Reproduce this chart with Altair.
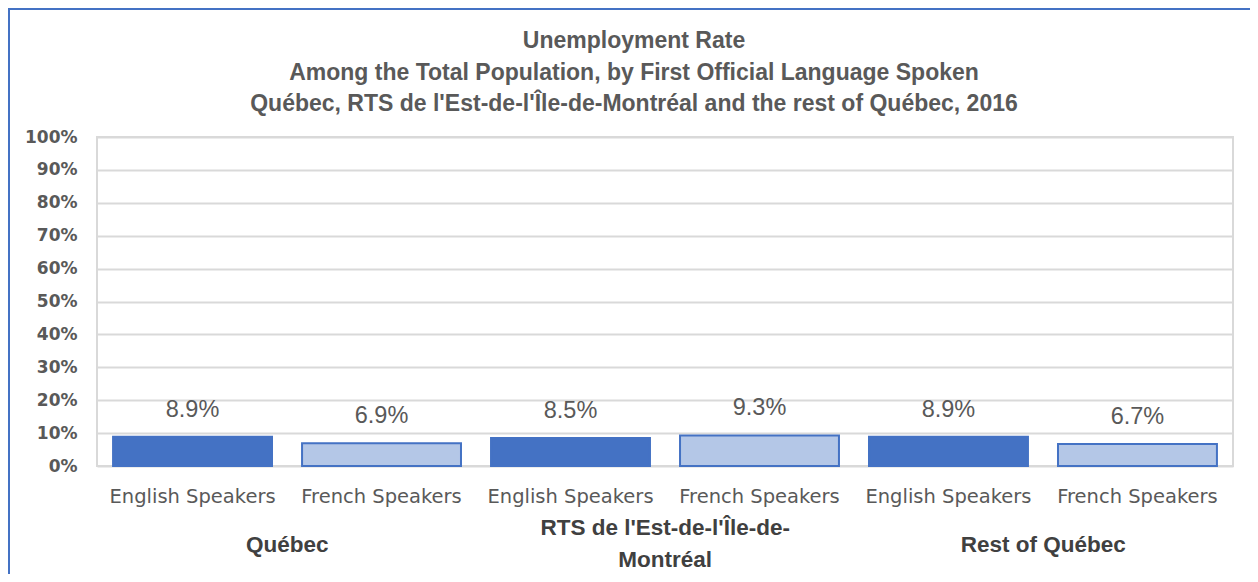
import altair as alt
import pandas as pd

groups = ["Québec", "Québec",
          "RTS de l'Est-de-l'Île-de-Montréal", "RTS de l'Est-de-l'Île-de-Montréal",
          "Rest of Québec", "Rest of Québec"]
speakers = ["English Speakers", "French Speakers"] * 3
rates = [8.9, 6.9, 8.5, 9.3, 8.9, 6.7]
group_names = ["Québec", "RTS de l'Est-de-l'Île-de-\nMontréal", "Rest of Québec"]
y_ticks = [0, 10, 20, 30, 40, 50, 60, 70, 80, 90, 100]
title_text = ("Unemployment Rate\n"
              "Among the Total Population, by First Official Language Spoken\n"
              "Québec, RTS de l'Est-de-l'Île-de-Montréal and the rest of Québec, 2016")

df = pd.DataFrame({"group": groups, "speaker": speakers, "rate": rates})
keys = [f"{i}|{s}" for i, s in enumerate(speakers)]
df["key"] = keys
df["label"] = [f"{r:.1f}%" for r in rates]
gdf = pd.DataFrame({"gname": group_names, "key": keys[0::2]})
gdf["lines"] = [g.count("\n") + 1 for g in group_names]

W, H = 1136, 329
xscale = alt.Scale(domain=keys, paddingInner=0.159, paddingOuter=0.085)

x = alt.X("key:N", sort=keys, scale=xscale,
          axis=alt.Axis(title=None, labelExpr="split(datum.label, '|')[1]",
                        labelAngle=0, domain=False, ticks=False, grid=False,
                        labelFont="DejaVu Sans", labelFontSize=19.5,
                        labelColor="#595959", labelPadding=21))
y = alt.Y("rate:Q", scale=alt.Scale(domain=[0, 100]),
          axis=alt.Axis(values=y_ticks, labelExpr="datum.value + '%'", title=None,
                        domain=False, ticks=False, grid=True, gridColor="#D9D9D9",
                        gridWidth=2, labelFont="DejaVu Sans", labelFontWeight="bold",
                        labelFontSize=17, labelColor="#595959", labelPadding=20))

base = alt.Chart(df)
bars = base.mark_bar(stroke="#4472C4", strokeWidth=2).encode(
    x=x, y=y,
    color=alt.Color("speaker:N", legend=None,
                    scale=alt.Scale(domain=["English Speakers", "French Speakers"],
                                    range=["#4472C4", "#B4C7E7"])),
)
labels = base.mark_text(dy=-27, baseline="middle", font="Liberation Sans",
                        fontSize=23.5, color="#595959").encode(x=x, y=y, text="label:N")

gstyle = dict(dx=W / 6 / 2, font="Liberation Sans", fontWeight="bold", fontSize=22.5,
              color="#404040", lineBreak="\n", baseline="middle", lineHeight=32)
gsingle = alt.Chart(gdf).transform_filter("datum.lines == 1").mark_text(**gstyle).encode(
    x=x, y=alt.value(408), text="gname:N")
gmulti = alt.Chart(gdf).transform_filter("datum.lines > 1").mark_text(**gstyle).encode(
    x=x, y=alt.value(391), text="gname:N")

title = alt.Chart(alt.Data(values=[{"t": title_text}])).mark_text(
    font="Liberation Sans", fontSize=23, fontWeight="bold", color="#595959",
    lineBreak="\n", lineHeight=31.5, baseline="middle", align="center",
).encode(x=alt.value(W / 2 - 31), y=alt.value(-96), text="t:N")

frame = alt.Chart(alt.Data(values=[{}])).mark_rect(
    fillOpacity=0, stroke="#4472C4", strokeWidth=2
).encode(x=alt.value(-88), x2=alt.value(W + 60), y=alt.value(-128), y2=alt.value(520))

chart = alt.layer(frame, bars, labels, gsingle, gmulti, title).properties(
    width=W, height=H,
    autosize=alt.AutoSizeParams(type="none"),
    padding={"left": 89, "top": 129, "right": 17, "bottom": 108},
).configure_view(stroke="#D9D9D9", strokeWidth=2)

chart.save("out.html", embed_options={"renderer": "svg", "actions": False})
